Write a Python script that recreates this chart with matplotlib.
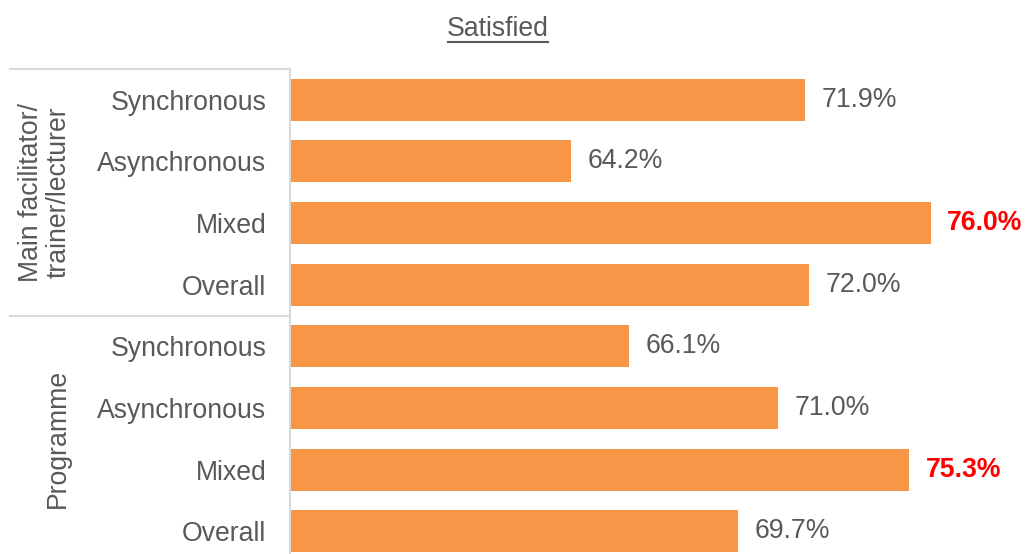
import matplotlib.pyplot as plt
from matplotlib.lines import Line2D

plt.rcParams['font.family'] = ['Liberation Sans', 'DejaVu Sans']

# ------------------------------------------------------------
# DATA
# ------------------------------------------------------------
categories = ["Synchronous", "Asynchronous", "Mixed", "Overall",
              "Synchronous", "Asynchronous", "Mixed", "Overall"]
satisfied  = [71.9, 64.2, 76.0, 72.0, 66.1, 71.0, 75.3, 69.7]
highlight  = [False, False, True, False, False, False, True, False]
groups     = ["Main facilitator/\ntrainer/lecturer", "Programme"]

BAR_COLOR  = "#F79646"
TEXT_COLOR = "#595959"
LINE_COLOR = "#D9D9D9"
FS = 19.2

fig = plt.figure(figsize=(10.25, 5.54), dpi=100)
ax = fig.add_axes([290 / 1025, -8 / 554, 732 / 1025, 493 / 554])

ypos = list(range(len(categories)))
ax.barh(ypos, satisfied, height=0.68, color=BAR_COLOR, left=0)

ax.set_xlim(55, 79)
ax.set_ylim(len(categories) - 0.5, -0.5)

for y, v, hl in zip(ypos, satisfied, highlight):
    ax.annotate(f"{v:.1f}%", (v, y), xytext=(12, 0), textcoords="offset points",
                va="center", ha="left", fontsize=FS,
                color="#FF0000" if hl else TEXT_COLOR,
                fontweight="bold" if hl else "normal")

ax.set_yticks(ypos)
ax.set_yticklabels(categories, fontsize=FS, color=TEXT_COLOR)
ax.tick_params(axis="y", length=0, pad=17)
ax.set_xticks([])

for s in ["top", "right", "bottom"]:
    ax.spines[s].set_visible(False)
ax.spines["left"].set_color(LINE_COLOR)
ax.spines["left"].set_linewidth(1.5)

# group separators and labels
tr = ax.get_yaxis_transform()
x0 = (10 - 290) / 732
for yb in [-0.5, 3.5]:
    ax.add_line(Line2D([x0, 0], [yb, yb], transform=tr, color=LINE_COLOR,
                       linewidth=1.5, clip_on=False))

ax.text((45 - 290) / 732, 1.5, groups[0], transform=tr, rotation=90,
        ha="center", va="center", multialignment="center", linespacing=1.05,
        fontsize=FS, color=TEXT_COLOR)
ax.text((58 - 290) / 732, 5.5, groups[1], transform=tr, rotation=90,
        ha="center", va="center", fontsize=FS, color=TEXT_COLOR)

# underlined title
fig.text(498 / 1025, 1 - 29 / 554, "Satisfied", ha="center", va="center",
         fontsize=FS, color=TEXT_COLOR)
fig.add_artist(Line2D([448 / 1025, 548 / 1025], [1 - 42 / 554, 1 - 42 / 554],
                      transform=fig.transFigure, color=TEXT_COLOR, linewidth=1.5))

plt.savefig("out.png", dpi=100)
